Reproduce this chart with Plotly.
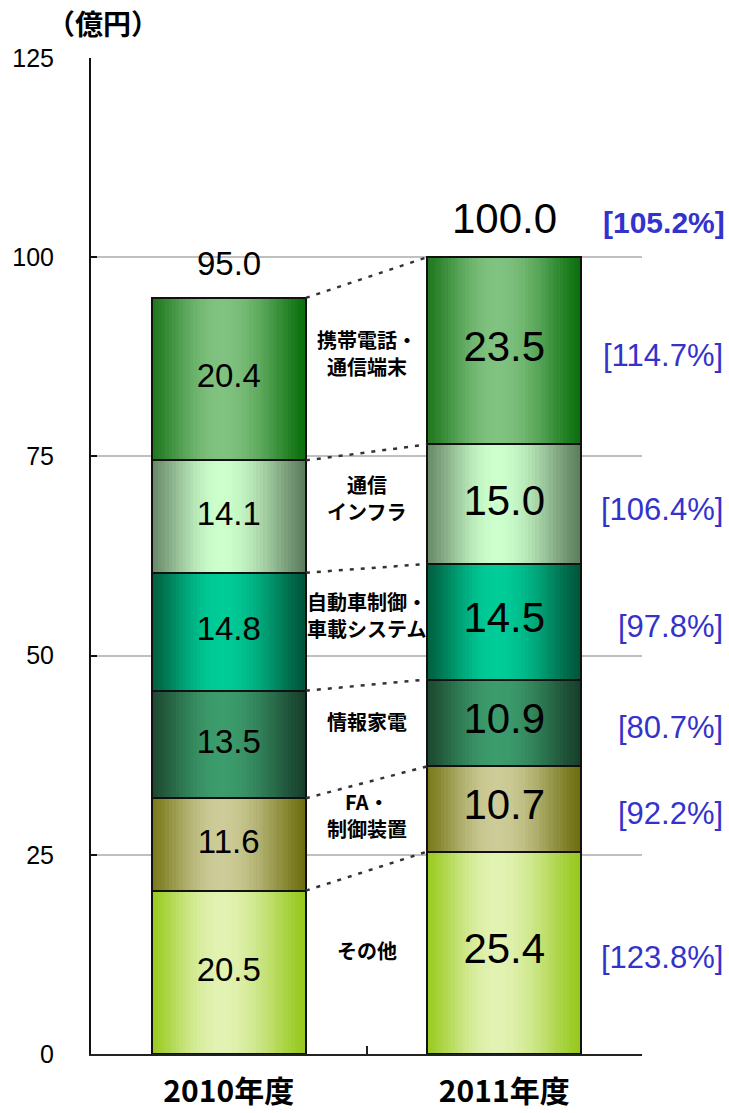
import numpy as np
import plotly.graph_objects as go

# ---------------- data ----------------
years = ["2010年度", "2011年度"]
segments = ["その他", "FA・<br>制御装置", "情報家電", "自動車制御・<br>車載システム",
            "通信<br>インフラ", "携帯電話・<br>通信端末"]
v2010 = [20.5, 11.6, 13.5, 14.8, 14.1, 20.4]
v2011 = [25.4, 10.7, 10.9, 14.5, 15.0, 23.5]
totals = [95.0, 100.0]
growth = ["[123.8%]", "[92.2%]", "[80.7%]", "[97.8%]", "[106.4%]", "[114.7%]"]
total_growth = "[105.2%]"
y_ticks = [0, 25, 50, 75, 100, 125]
unit_label = "（億円）"

# ---------------- style ----------------
# (left edge, centre highlight, right edge) for each segment, bottom to top
grad = [
    ("#9acb20", "#e2f2b2", "#96c81c"),
    ("#7a7a1c", "#cdcc98", "#6e6e10"),
    ("#1c4a30", "#3c9c6c", "#18402c"),
    ("#00603f", "#00cc98", "#00563a"),
    ("#6a8a6a", "#ccffcc", "#5e7e5e"),
    ("#20781f", "#80c280", "#0a700c"),
]
W = 0.56
N = 44
NUM_FONT = "Liberation Sans, Arial, sans-serif"
JP_FONT = "Noto Sans CJK JP, sans-serif"


def hex2rgb(h):
    h = h.lstrip("#")
    return np.array([int(h[i:i + 2], 16) for i in (0, 2, 4)], dtype=float)


def shade(left, mid, right, t, c=0.45):
    d = (c - t) / c if t < c else (t - c) / (1 - c)
    m = np.cos(np.pi / 2 * min(d, 1.0)) ** 1.3
    edge = hex2rgb(left) * (1 - t) + hex2rgb(right) * t
    col = edge * (1 - m) + hex2rgb(mid) * m
    return "rgb(%d,%d,%d)" % tuple(np.clip(col, 0, 255).round())


vals = [v2010, v2011]
bases = [list(np.concatenate([[0], np.cumsum(v)[:-1]])) for v in vals]
tops = [list(np.cumsum(v)) for v in vals]
nseg = len(segments)

fig = go.Figure()

xs_all = [0] * nseg + [1] * nseg
ys_all = v2010 + v2011
base_all = bases[0] + bases[1]

# gradient slices
sw = W / N
for k in range(N):
    t = (k + 0.5) / N
    off = -W / 2 + (k + 0.5) * sw
    cols = [shade(*grad[i], t) for i in range(nseg)] * 2
    fig.add_trace(go.Bar(
        x=[x + off for x in xs_all], y=ys_all, base=base_all,
        width=sw * 1.35, marker=dict(color=cols, line=dict(width=0)),
        showlegend=False, hoverinfo="skip"))

# outlines
fig.add_trace(go.Bar(
    x=xs_all, y=ys_all, base=base_all, width=W,
    marker=dict(color="rgba(0,0,0,0)", line=dict(color="#111111", width=2)),
    showlegend=False, hoverinfo="skip"))

# connector dotted lines
for i in range(nseg):
    fig.add_trace(go.Scatter(
        x=[W / 2, 1 - W / 2], y=[tops[0][i], tops[1][i]], mode="lines",
        line=dict(color="#333333", width=2.5, dash="4px,7px"),
        showlegend=False, hoverinfo="skip", xaxis="x2"))

# values inside segments
fig.add_trace(go.Scatter(
    x=xs_all, y=[b + v / 2 for b, v in zip(base_all, ys_all)],
    text=[f"{v:.1f}" for v in ys_all], mode="text",
    textfont=dict(family=NUM_FONT, size=[33] * nseg + [42] * nseg, color="black"),
    textposition="middle center", showlegend=False, hoverinfo="skip", xaxis="x2"))

annotations = []
# totals
for j, tot in enumerate(totals):
    annotations.append(dict(
        x=j, y=tot, xref="x", yref="y", text=f"{tot:.1f}", showarrow=False,
        yanchor="middle", yshift=[34, 39][j],
        font=dict(family=NUM_FONT, size=[33, 42][j], color="black")))

# middle segment labels (one annotation per line)
LINE = 27
for i in range(nseg):
    c0 = bases[0][i] + v2010[i] / 2
    c1 = bases[1][i] + v2011[i] / 2
    lines = segments[i].split("<br>")
    n = len(lines)
    for li, txt in enumerate(lines):
        annotations.append(dict(
            x=0.5, y=(c0 + c1) / 2, xref="x", yref="y", text=txt,
            showarrow=False, yanchor="middle",
            yshift=12 + ((n - 1) / 2 - li) * LINE,
            font=dict(family=JP_FONT, size=20, color="black", weight="bold")))

# growth rates
for i in range(nseg):
    annotations.append(dict(
        x=1.151, y=bases[1][i] + v2011[i] / 2, xref="paper", yref="y",
        text=growth[i], showarrow=False, xanchor="right", yanchor="middle",
        yshift=-5, font=dict(family=NUM_FONT, size=31, color="#3333CC")))
annotations.append(dict(
    x=1.155, y=totals[1], xref="paper", yref="y", text=total_growth,
    showarrow=False, xanchor="right", yanchor="middle", yshift=35,
    font=dict(family=NUM_FONT, size=30, color="#3333CC", weight="bold")))

# unit label
annotations.append(dict(
    x=0.022, y=1.035, xref="paper", yref="paper", text=unit_label,
    showarrow=False, xanchor="center", yanchor="middle",
    font=dict(family=JP_FONT, size=28, color="black", weight="bold")))

fig.update_layout(
    width=729, height=1113,
    margin=dict(l=91, r=87, t=58, b=59, autoexpand=False),
    paper_bgcolor="white", plot_bgcolor="white",
    barmode="overlay", bargap=0,
    annotations=annotations,
    xaxis=dict(range=[-0.5, 1.5], tickvals=[-0.5, 0.5, 1.5], ticks="inside",
               ticklen=8, tickwidth=2, tickcolor="#222222", automargin=False,
               showticklabels=False, showgrid=False, zeroline=False,
               showline=True, linecolor="#222222", linewidth=2),
    xaxis2=dict(range=[-0.5, 1.5], overlaying="x", anchor="y", side="bottom",
                tickvals=[0, 1], ticktext=years, ticks="", showgrid=False,
                zeroline=False, showline=False, ticklabelstandoff=17,
                automargin=False,
                tickfont=dict(family=JP_FONT, size=30, color="black", weight="bold")),
    yaxis=dict(range=[0, 125], tickvals=y_ticks, ticks="inside", ticklen=6,
               tickwidth=2, tickcolor="#111111", showgrid=True,
               gridcolor="#c0c0c0", gridwidth=2, zeroline=False,
               showline=True, linecolor="#111111", linewidth=2,
               ticklabelstandoff=30, automargin=False,
               tickfont=dict(family=NUM_FONT, size=25, color="black")),
)

fig.write_html("out.html")
